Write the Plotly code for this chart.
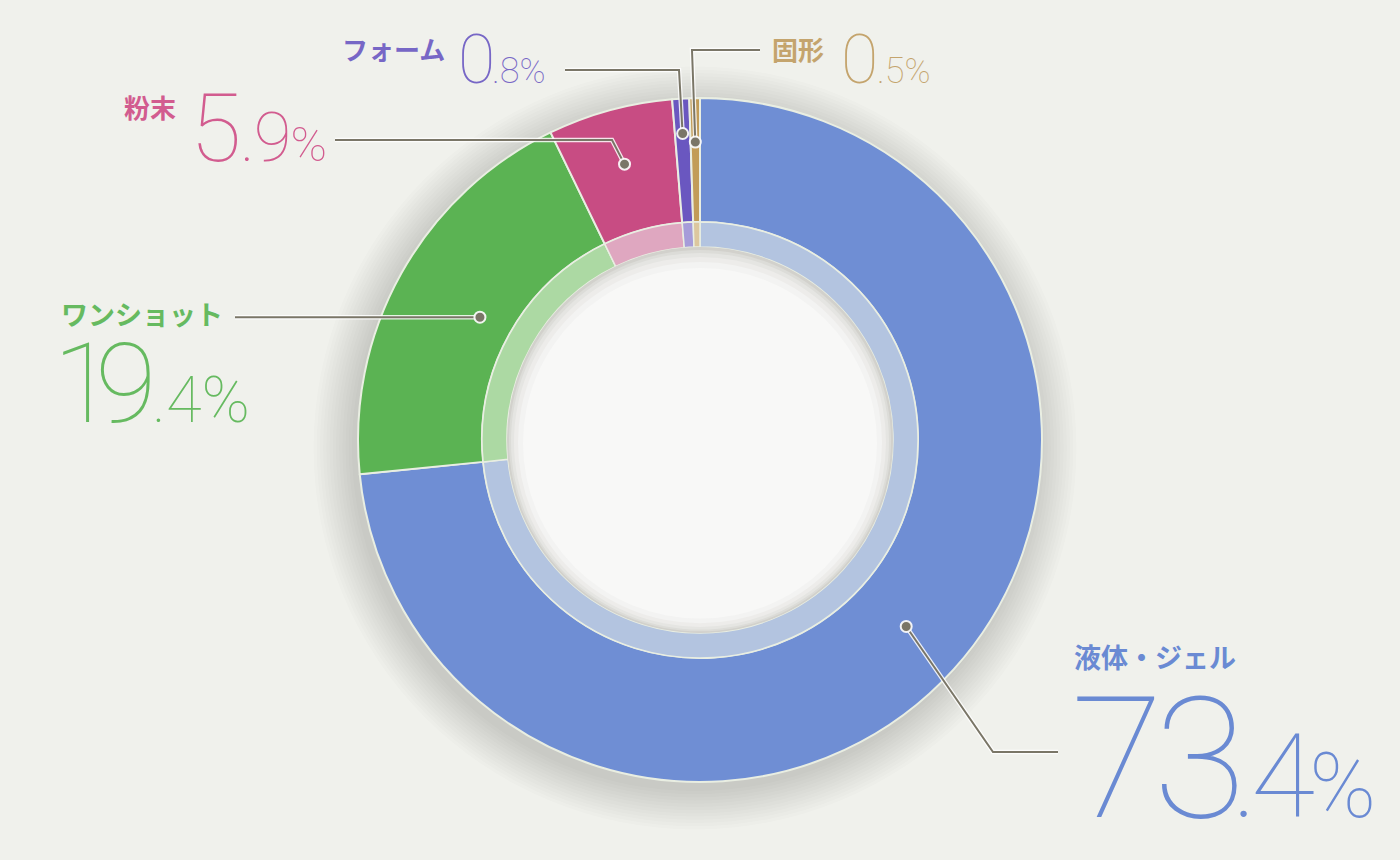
import math
import plotly.graph_objects as go

# ---------------- data ----------------
categories = ["液体・ジェル", "ワンショット", "粉末", "フォーム", "固形"]
values = [73.4, 19.4, 5.9, 0.8, 0.5]

# ---------------- styles ----------------
slice_colors = ["#6f8ed4", "#5bb353", "#c84c83", "#6a57c0", "#c29c58"]
band_colors = ["#b3c4e0", "#acd9a3", "#dfa7c0", "#a69cd9", "#dcc79f"]
text_colors = ["#6a8ad3", "#66ba60", "#d25c8f", "#7767c6", "#c4a46d"]

W, H = 1400, 860
CX, CY = 700, 440
R_OUT, R_BAND, R_HOLE = 342, 218, 193
BG = "#f0f1ec"
LINE_C = "#7a7667"
NUM_FONT = "Roboto"

# anchor radius of each leader dot (layout)
anchor_r = [278, 252, 286, 307, 298]
# leader path after the dot (layout, pixels); None = keep dot's y
leader_paths = [
    [(993, 752), (1058, 752)],
    [(235, None)],
    [(612, 140), (335, 140)],
    [(679, 70), (565, 70)],
    [(692, 50), (760, 50)],
]
# name label layout: (x_left, y_center, size)
name_layout = [
    (1073, 656, 27),
    (60, 313, 27),
    (123, 106, 26),
    (341, 48, 26),
    (771, 48, 26),
]
# number layout: (int_x, dec_x, baseline, int_size, dec_size, pct_size, int_ls, dec_ls)
num_layout = [
    (1070, 1231, 818, 169, 117, 90, -10, -6),
    (52, 151, 423, 112, 65, 65, -19, 0),
    (189, 239, 162, 94, 69, 49, 0, -1),
    (457, 491, 84, 68, 36, 35, 0, 0),
    (840, 876, 84, 68, 36, 35, 0, 0),
]
DESC = 0.244  # font descent ratio used to place baselines

fig = go.Figure()

# outer pie (colored ring)
fig.add_trace(go.Pie(
    labels=categories, values=values, sort=False, direction="clockwise",
    rotation=0, hole=R_BAND / R_OUT,
    marker=dict(colors=slice_colors, line=dict(color="#e9eee2", width=2)),
    textinfo="none", hoverinfo="label+percent", showlegend=False,
    domain=dict(x=[(CX - R_OUT) / W, (CX + R_OUT) / W],
                y=[(H - CY - R_OUT) / H, (H - CY + R_OUT) / H]),
))
# inner lighter band
fig.add_trace(go.Pie(
    labels=categories, values=values, sort=False, direction="clockwise",
    rotation=0, hole=R_HOLE / R_BAND,
    marker=dict(colors=band_colors, line=dict(color="#e9eee2", width=1.5)),
    textinfo="none", hoverinfo="skip", showlegend=False,
    domain=dict(x=[(CX - R_BAND) / W, (CX + R_BAND) / W],
                y=[(H - CY - R_BAND) / H, (H - CY + R_BAND) / H]),
))

shapes = []
# soft outer shadow (below)
for i in range(13):
    r = R_OUT + 1 + i * 3.2
    shapes.append(dict(type="circle", xref="x", yref="y", layer="below",
                       x0=CX - r - 5, x1=CX + r - 5, y0=CY - r + 8, y1=CY + r + 8,
                       fillcolor="rgba(70,70,60,0.014)", line=dict(width=0)))

# hole with inner shadow
hole_steps = [(R_HOLE, "#d2d1cc"), (R_HOLE - 2, "#dcdcd8"), (R_HOLE - 4, "#e5e5e2"),
              (R_HOLE - 7, "#edecea"), (R_HOLE - 11, "#f3f3f2"), (R_HOLE - 16, "#f8f8f7")]
for k, (r, c) in enumerate(hole_steps):
    off = k * 1.0
    shapes.append(dict(type="circle", xref="x", yref="y", layer="above",
                       x0=CX - r, x1=CX + r, y0=CY - r + off, y1=CY + r + off * 0.3,
                       fillcolor=c, line=dict(width=0)))

annotations = []
cum = 0.0
for i, v in enumerate(values):
    theta = math.radians(360 * (cum + v / 2) / 100)
    cum += v
    dx = CX + anchor_r[i] * math.sin(theta)
    dy = CY - anchor_r[i] * math.cos(theta)
    pts = [(dx, dy)]
    for (px, py) in leader_paths[i]:
        pts.append((px, dy if py is None else py))
    path = "M " + " L ".join(f"{x:.1f},{y:.1f}" for x, y in pts)
    shapes.append(dict(type="path", xref="x", yref="y", layer="above", path=path,
                       line=dict(color="rgba(255,255,255,0.85)", width=4.5)))
    shapes.append(dict(type="path", xref="x", yref="y", layer="above", path=path,
                       line=dict(color=LINE_C, width=2)))
    rr = 5.5
    shapes.append(dict(type="circle", xref="x", yref="y", layer="above",
                       x0=dx - rr, x1=dx + rr, y0=dy - rr, y1=dy + rr,
                       fillcolor=LINE_C, line=dict(color="rgba(255,255,255,0.9)", width=2)))

    nx, ny, ns = name_layout[i]
    annotations.append(dict(
        x=nx, y=ny, xref="x", yref="y", xanchor="left", yanchor="middle",
        text=f"<b>{categories[i]}</b>", showarrow=False, borderpad=0,
        font=dict(family="Noto Sans CJK JP", size=ns, color=text_colors[i]),
    ))
    ix, dxp, base, s_int, s_dec, s_pct, ls_i, ls_d = num_layout[i]
    ip, dp = f"{v:.1f}".split(".")
    ls_last = -0.12 * s_int
    head = (f"<span style='letter-spacing:{ls_i}px'>{ip[:-1]}</span>" if len(ip) > 1 else "")
    annotations.append(dict(
        x=ix, y=base + DESC * s_int, xref="x", yref="y", xanchor="left", yanchor="bottom",
        text=head + f"<span style='letter-spacing:{ls_last:.1f}px'>{ip[-1]}</span>",
        showarrow=False, borderpad=0,
        font=dict(family=NUM_FONT, size=s_int, color=text_colors[i], weight=100),
    ))
    annotations.append(dict(
        x=dxp, y=base + DESC * s_dec, xref="x", yref="y", xanchor="left", yanchor="bottom",
        text=(f"<span style='letter-spacing:{ls_d}px'>.{dp}</span>"
              f"<span style='font-size:{s_pct}px'>%</span>"),
        showarrow=False, borderpad=0,
        font=dict(family=NUM_FONT, size=s_dec, color=text_colors[i], weight=100),
    ))

fig.update_layout(
    width=W, height=H,
    margin=dict(l=0, r=0, t=0, b=0),
    paper_bgcolor=BG, plot_bgcolor=BG,
    xaxis=dict(range=[0, W], visible=False, fixedrange=True, domain=[0, 1]),
    yaxis=dict(range=[H, 0], visible=False, fixedrange=True, domain=[0, 1]),
    shapes=shapes, annotations=annotations, showlegend=False,
)

fig.write_html("out.html", config={"displayModeBar": False},
               post_script="document.body.style.margin='0px';")
